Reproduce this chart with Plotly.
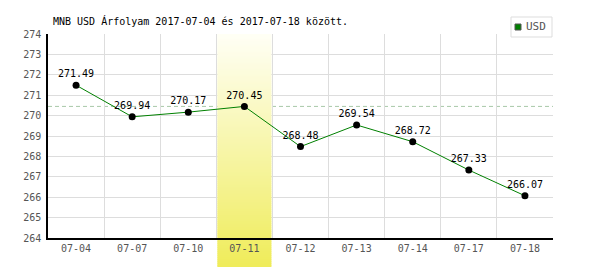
import plotly.graph_objects as go

# ---- data ----
dates = ["07-04", "07-07", "07-10", "07-11", "07-12", "07-13", "07-14", "07-17", "07-18"]
usd = [271.49, 269.94, 270.17, 270.45, 268.48, 269.54, 268.72, 267.33, 266.07]
highlight_date = "07-11"
ref_value = 270.45
y_min, y_max = 264, 274
title_text = "MNB USD Árfolyam 2017-07-04 és 2017-07-18 között."
series_name = "USD"

# ---- layout geometry ----
W, H = 600, 270
ml, mr, mt, mb = 48, 47, 34, 32
plot_w = W - ml - mr
plot_h = H - mt - mb
mono = "DejaVu Sans Mono"
grid = "#dddddd"
label_gray = "#555555"

fig = go.Figure()
fig.add_trace(go.Scatter(
    x=dates, y=usd, mode="lines+markers+text",
    text=[f"{v:.2f}" for v in usd], textposition="top center",
    textfont=dict(family=mono, size=10, color="black"),
    line=dict(color="#008000", width=1),
    marker=dict(color="black", size=7),
    name=series_name, showlegend=False, cliponaxis=False,
))

shapes = []
# dashed reference line
shapes.append(dict(type="line", xref="paper", x0=0, x1=1, yref="y", y0=ref_value, y1=ref_value,
                   line=dict(color="#a9c9a9", width=1, dash="4px,3px"), layer="between"))

# gradient highlight band
idx = dates.index(highlight_date)
n = len(dates)
inset = 0.018
band_bottom_px = 267
top_px = mt
total = band_bottom_px - top_px
c_top = (255, 255, 246)
c_bot = (239, 236, 90)

def col(t):
    return "rgb(%d,%d,%d)" % tuple(round(a + (b - a) * t) for a, b in zip(c_top, c_bot))

axis_px = mt + plot_h
step = 2
py = top_px
while py < band_bottom_px:
    py2 = min(py + step, band_bottom_px)
    if py < axis_px and py2 > axis_px:
        py2 = axis_px
    t = ((py + py2) / 2 - top_px) / total
    if py2 <= axis_px:
        y0 = y_min + (axis_px - py2) / plot_h * (y_max - y_min)
        y1 = y_min + (axis_px - py + 0.4) / plot_h * (y_max - y_min)
        shapes.append(dict(type="rect", xref="x", yref="y", x0=idx - 0.5 + inset, x1=idx + 0.5 - inset,
                           y0=y0, y1=min(y1, y_max), fillcolor=col(t), line=dict(width=0), layer="between"))
    else:
        p0 = (axis_px - py2) / plot_h
        p1 = (axis_px - py + 0.4) / plot_h
        shapes.append(dict(type="rect", xref="paper", yref="paper", x0=(idx + inset) / n, x1=(idx + 1 - inset) / n,
                           y0=p0, y1=min(p1, 0), fillcolor=col(t), line=dict(width=0), layer="below"))
    py = py2

# legend box (drawn manually for exact compact look)
def px_x(x):
    return (x - ml) / plot_w

def px_y(y):
    return (axis_px - y) / plot_h

shapes.append(dict(type="rect", xref="paper", yref="paper", x0=px_x(511), x1=px_x(552), y0=px_y(37), y1=px_y(17),
                   fillcolor="white", line=dict(color=grid, width=1), layer="above"))
shapes.append(dict(type="rect", xref="paper", yref="paper", x0=px_x(515), x1=px_x(521), y0=px_y(30), y1=px_y(24),
                   fillcolor="#008000", line=dict(color="#555555", width=1), layer="above"))

fig.update_layout(
    width=W, height=H,
    margin=dict(l=ml, r=mr, t=mt, b=mb),
    paper_bgcolor="white", plot_bgcolor="white",
    showlegend=False,
    shapes=shapes,
    title=dict(text=title_text, x=53 / W, xanchor="left", xref="container",
               y=1 - 21 / H, yanchor="middle", yref="container",
               font=dict(family=mono, size=10, color="black")),
    annotations=[dict(text=series_name, xref="paper", yref="paper", x=px_x(524), y=px_y(27),
                      xanchor="left", yanchor="middle", showarrow=False,
                      font=dict(family="Liberation Sans Narrow, DejaVu Sans Mono", size=11, color=label_gray))],
    xaxis=dict(type="category", range=[-0.5, n - 0.5], tickson="boundaries",
               showgrid=True, gridcolor=grid, gridwidth=1,
               showline=True, linecolor="black", linewidth=1.5,
               ticks="outside", ticklen=4, tickcolor="rgba(0,0,0,0)",
               tickfont=dict(family=mono, size=10, color=label_gray), fixedrange=True),
    yaxis=dict(range=[y_min, y_max], tick0=y_min, dtick=1,
               showgrid=True, gridcolor=grid, gridwidth=1, zeroline=False,
               showline=True, linecolor="black", linewidth=1.5,
               ticks="outside", ticklen=3, tickcolor="rgba(0,0,0,0)",
               tickfont=dict(family=mono, size=10, color=label_gray), fixedrange=True),
)

fig.write_html("out.html")
